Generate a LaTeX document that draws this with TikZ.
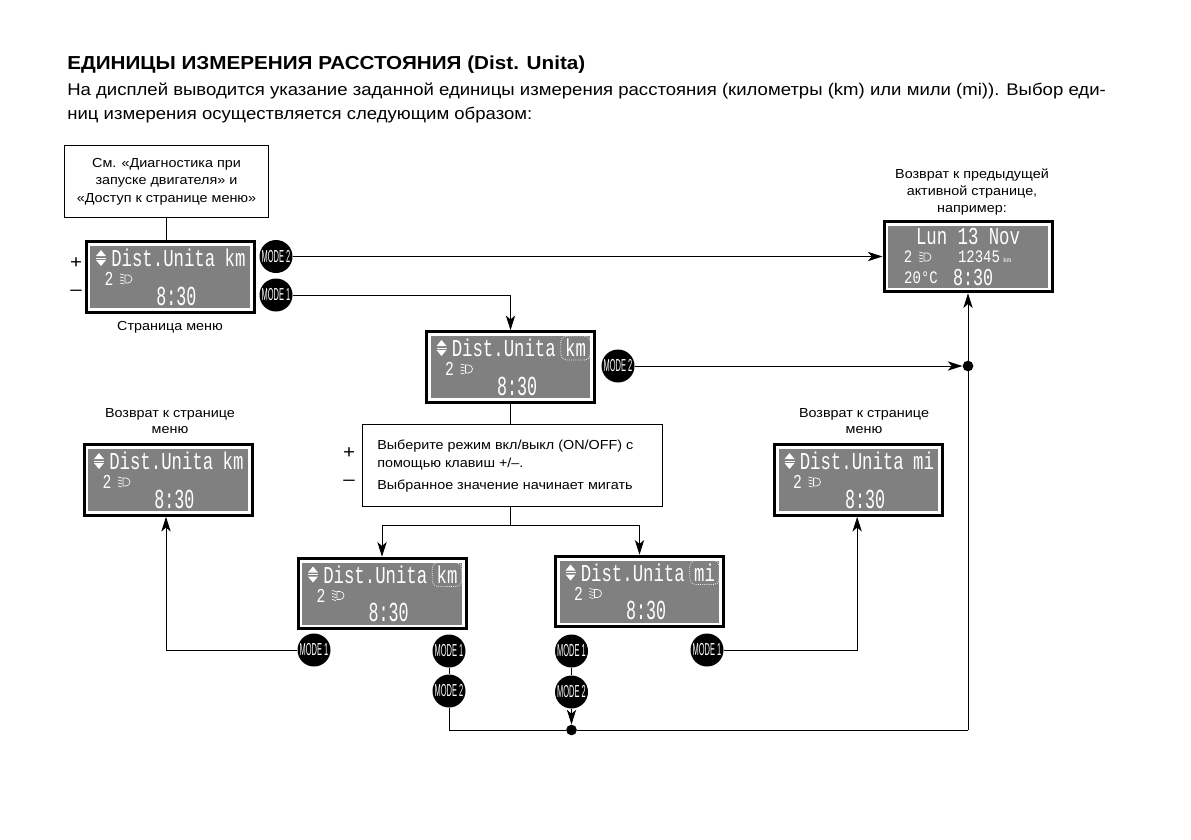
\documentclass[tikz,border=0pt]{standalone}
\usepackage{fontspec}
\usepackage{graphicx}
\usepackage{tikz}
\usetikzlibrary{shapes,arrows.meta,positioning,calc}
\setmainfont[FakeStretch=1.1]{Liberation Sans}
\newfontfamily\plainfont{Liberation Sans}
\newfontfamily\lcdfont{Liberation Mono}
\newcommand{\lcdtext}[3]{\scalebox{1}[#2]{\lcdfont\fontsize{#1}{#1}\selectfont #3}}
\newcommand{\modetext}[1]{\scalebox{0.43}[1]{\plainfont\fontsize{13}{13}\selectfont MODE #1}}
\tikzset{
	line/.style={draw=black, line width=0.75pt},
	arrowline/.style={line, -{Stealth[length=11pt,width=7pt,inset=3pt]}},
	textbox/.style={draw=black, line width=0.75pt, fill=white, inner sep=0pt},
	lcdframe/.style={draw=black, line width=2.25pt, fill=white, minimum width=126pt, minimum height=53pt, inner sep=0pt},
	lcdscreen/.style={fill=black!50, minimum width=119.5pt, minimum height=46.5pt, inner sep=0pt},
	lcdlabel/.style={text=white, inner sep=0pt},
	flash/.style={draw=white, densely dotted, line width=0.6pt, rounded corners=4pt, minimum width=22pt, minimum height=18pt, inner sep=0pt},
	button/.style={circle, fill=black, text=white, inner sep=0pt, minimum size=24.75pt},
	junction/.style={circle, fill=black, inner sep=0pt, minimum size=8pt},
	caption/.style={align=center, inner sep=0pt, font=\fontsize{9.8}{12.6}\selectfont},
	sign/.style={inner sep=0pt, font=\fontsize{14}{14}\selectfont},
	lamp/.pic={
		\draw[white, line width=0.5pt] (0,-4) -- (3,-4) arc (-90:90:4) -- (0,4) -- cycle;
		\foreach \ly in {-4,-1,2,5} {\draw[white, line width=0.5pt] (-5,\ly-1) -- (-1,\ly);}
	},
	updown/.pic={
		\fill[white] (-5,-2) -- (5,-2) -- (0,-8) -- cycle;
		\fill[white] (-5,2) -- (5,2) -- (0,8) -- cycle;
		\draw[white, line width=0.5pt] (-5,0) -- (5,0);
	}
}
% #1 name, #2 #3 centre
\newcommand{\lcdshell}[3]{
	\node[lcdframe] (#1) at (#2,#3) {};
	\node[lcdscreen] (#1screen) at (#2,#3) {};
}
% #1 name, #2 #3 centre, #4 unit, #5 unit style
\newcommand{\lcdpage}[5]{
	\lcdshell{#1}{#2}{#3}
	\begin{scope}[shift={(#2,#3)}]
		\pic at (-69,-19) {updown};
		\node[lcdlabel, anchor=west] (#1title) at (-59,-19) {\lcdtext{13}{1.4}{Dist.Unita}};
		\node[lcdlabel, #5] (#1unit) at (65,-19) {\lcdtext{13}{1.4}{#4}};
		\node[lcdlabel] (#1gear) at (-61,2) {\lcdtext{11}{1.35}{2}};
		\pic at (-45,2) {lamp};
		\node[lcdlabel] (#1time) at (6.5,19) {\lcdtext{12.5}{1.65}{8:30}};
	\end{scope}
}

\begin{document}
\begin{tikzpicture}[x=0.75pt, y=-0.75pt]
	\useasboundingbox (0,0) rectangle (1191,839);
	\fill[white] (0,0) rectangle (1191,839);

	\node[anchor=west, inner sep=0pt, font=\bfseries\fontsize{14.1}{16}\selectfont] (heading) at (67,65) {ЕДИНИЦЫ ИЗМЕРЕНИЯ РАССТОЯНИЯ (Dist. Unita)};
	\node[anchor=west, align=left, inner sep=0pt, font=\fontsize{12.65}{18}\selectfont] (intro) at (67,103) {На дисплей выводится указание заданной единицы измерения расстояния (километры (km) или мили (mi)). Выбор еди-\\ниц измерения осуществляется следующим образом:};

	\node[textbox, minimum width=153pt, minimum height=54.5pt, align=center, font=\fontsize{9.8}{13.2}\selectfont] (startbox) at (166.5,181.5) {См. «Диагностика при\\запуске двигателя» и\\«Доступ к странице меню»};
	\lcdpage{menupage}{170}{277}{km}{}
	\node[caption] (menucaption) at (170,327) {Страница меню};
	\node[sign] (menuplus) at (76,263) {+};
	\node[sign] (menuminus) at (76,293) {–};
	\node[button] (menumodeb) at (276,256.5) {\modetext{2}};
	\node[button] (menumodea) at (276,295) {\modetext{1}};

	\lcdshell{backpage}{968}{256.5}
	\node[lcdlabel] (backdate) at (968,236) {\lcdtext{13}{1.4}{Lun 13 Nov}};
	\node[lcdlabel] (backgear) at (908,257) {\lcdtext{10.5}{1.25}{2}};
	\pic at (924,257) {lamp};
	\node[lcdlabel] (backodo) at (979,257) {\lcdtext{10.5}{1.25}{12345}};
	\node[lcdlabel] (backkm) at (1007,260) {\lcdtext{5}{1}{km}};
	\node[lcdlabel] (backtemp) at (921,278) {\lcdtext{10.5}{1.25}{20°C}};
	\node[lcdlabel] (backtime) at (973,278) {\lcdtext{12.5}{1.45}{8:30}};
	\node[caption] (backcaption) at (972,192) {Возврат к предыдущей\\активной странице,\\например:};

	\lcdpage{selectpage}{510.5}{367}{km}{flash}
	\node[button] (selectmode) at (618,366) {\modetext{2}};
	\node[textbox, minimum width=225pt, minimum height=62pt] (infobox) at (512,465.5) {};
	\node[anchor=west, align=left, inner sep=0pt, font=\fontsize{9.8}{13.5}\selectfont] (infotext) at (377,466) {Выберите режим вкл/выкл (ON/OFF) с\\помощью клавиш +/–.\\[3pt]Выбранное значение начинает мигать};
	\node[sign] (infoplus) at (349,453) {+};
	\node[sign] (infominus) at (349,483) {–};

	\lcdpage{leftpage}{168}{480}{km}{}
	\node[caption] (leftcaption) at (170,421) {Возврат к странице\\меню};
	\lcdpage{rightpage}{858.5}{480}{mi}{}
	\node[caption] (rightcaption) at (864,421) {Возврат к странице\\меню};

	\lcdpage{kmpage}{382}{593.5}{km}{flash}
	\lcdpage{mipage}{639.5}{591.5}{mi}{flash}
	\node[button] (kmback) at (314,650) {\modetext{1}};
	\node[button] (kmmodea) at (449,651) {\modetext{1}};
	\node[button] (kmmodeb) at (449,691) {\modetext{2}};
	\node[button] (mimodea) at (571.5,651) {\modetext{1}};
	\node[button] (mimodeb) at (571.5,692) {\modetext{2}};
	\node[button] (miback) at (707,650) {\modetext{1}};

	\node[junction] (joinright) at (968,366) {};
	\node[junction] (joinbottom) at (571.5,730) {};
	\coordinate (split) at (510.5,525);
	\coordinate (corner) at (968,730);

	\draw[line] (startbox.south) -- (startbox.south |- menupage.north);
	\draw[arrowline] (menumodeb) -- (backpage);
	\draw[arrowline] (menumodea) -| (selectpage.north);
	\draw[arrowline] (selectmode) -- (joinright);
	\draw[line] (selectpage.south) -- (selectpage.south |- infobox.north);
	\draw[line] (selectpage.south |- infobox.south) -- (split);
	\draw[arrowline] (split) -| (kmpage.north);
	\draw[arrowline] (split) -| (mipage.north);
	\draw[arrowline] (kmback) -| ([xshift=-1.5pt]leftpage.south);
	\draw[arrowline] (miback) -| ([xshift=-1pt]rightpage.south);
	\draw[line] (kmmodea) -- (kmmodeb);
	\draw[line] (mimodea) -- (mimodeb);
	\draw[arrowline] (mimodeb) -- (joinbottom);
	\draw[line] (kmmodeb) |- (joinbottom);
	\draw[line] (joinbottom) -- (corner);
	\draw[arrowline] (corner) -- (backpage.south);
\end{tikzpicture}
\end{document}
